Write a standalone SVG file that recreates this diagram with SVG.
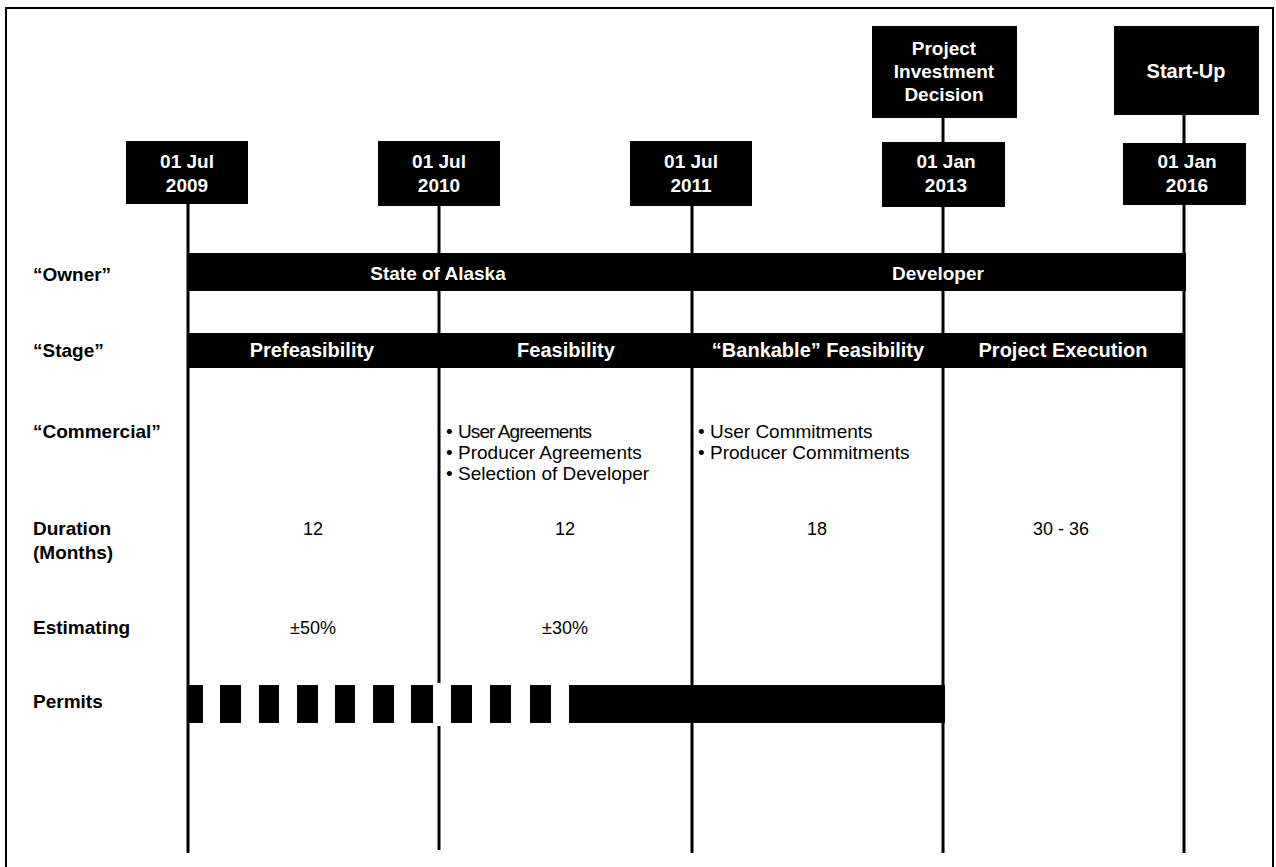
<svg xmlns="http://www.w3.org/2000/svg" width="1276" height="867" viewBox="0 0 1276 867">
<defs>
<style>
.bg{fill:#fff}
.frame{fill:none;stroke:#000;stroke-width:2}
.box{fill:#000}
.ln{stroke:#000;stroke-width:3;fill:none}
.wt{fill:#fff;font-family:"Liberation Sans",Arial,sans-serif;font-weight:bold;text-anchor:middle}
.lbl{fill:#000;font-family:"Liberation Sans",Arial,sans-serif;font-weight:bold;font-size:19px}
.txt{fill:#000;font-family:"Liberation Sans",Arial,sans-serif;font-size:18px}
.bul{fill:#000;font-family:"Liberation Sans",Arial,sans-serif;font-size:19px}
.mid{text-anchor:middle}
</style>
</defs>
<rect class="bg" x="0" y="0" width="1276" height="867"/>
<rect class="frame" x="6" y="8" width="1267" height="880"/>

<g id="connectors">
<line class="ln" x1="188" y1="204" x2="188" y2="853"/>
<line class="ln" x1="439" y1="206" x2="439" y2="683"/>
<line class="ln" x1="439" y1="726" x2="439" y2="850"/>
<line class="ln" x1="692" y1="206" x2="692" y2="853"/>
<line class="ln" x1="943" y1="118" x2="943" y2="853"/>
<line class="ln" x1="1184" y1="115" x2="1184" y2="853"/>
</g>

<g id="pid">
<rect class="box" x="872" y="26" width="145" height="92"/>
<text class="wt" font-size="19" x="944" y="55">Project</text>
<text class="wt" font-size="19" x="944" y="78">Investment</text>
<text class="wt" font-size="19" x="944" y="101">Decision</text>
</g>
<g id="startup">
<rect class="box" x="1114" y="26" width="145" height="89"/>
<text class="wt" font-size="20" x="1186" y="78">Start-Up</text>
</g>

<g id="d2009">
<rect class="box" x="126" y="141" width="122" height="63"/>
<text class="wt" font-size="19" x="187" y="168">01 Jul</text>
<text class="wt" font-size="19" x="187" y="192">2009</text>
</g>
<g id="d2010">
<rect class="box" x="378" y="141" width="122" height="65"/>
<text class="wt" font-size="19" x="439" y="168">01 Jul</text>
<text class="wt" font-size="19" x="439" y="192">2010</text>
</g>
<g id="d2011">
<rect class="box" x="630" y="141" width="122" height="65"/>
<text class="wt" font-size="19" x="691" y="168">01 Jul</text>
<text class="wt" font-size="19" x="691" y="192">2011</text>
</g>
<g id="d2013">
<rect class="box" x="882" y="142" width="123" height="65"/>
<text class="wt" font-size="19" x="946" y="168">01 Jan</text>
<text class="wt" font-size="19" x="946" y="192">2013</text>
</g>
<g id="d2016">
<rect class="box" x="1123" y="143" width="123" height="62"/>
<text class="wt" font-size="19" x="1187" y="168">01 Jan</text>
<text class="wt" font-size="19" x="1187" y="192">2016</text>
</g>

<g id="owner">
<rect class="box" x="187" y="253" width="999" height="38"/>
<text class="wt" font-size="19" x="438" y="280">State of Alaska</text>
<text class="wt" font-size="19" x="938" y="280">Developer</text>
</g>

<g id="stage">
<rect class="box" x="187" y="333" width="996" height="35"/>
<text class="wt" font-size="20" x="312" y="357">Prefeasibility</text>
<text class="wt" font-size="20" x="566" y="357">Feasibility</text>
<text class="wt" font-size="20" x="818" y="357">“Bankable” Feasibility</text>
<text class="wt" font-size="20" x="1063" y="357">Project Execution</text>
</g>

<g id="labels">
<text class="lbl" x="33" y="281">“Owner”</text>
<text class="lbl" x="33" y="357">“Stage”</text>
<text class="lbl" x="33" y="438">“Commercial”</text>
<text class="lbl" x="33" y="535">Duration</text>
<text class="lbl" x="33" y="559">(Months)</text>
<text class="lbl" x="33" y="634">Estimating</text>
<text class="lbl" x="33" y="708">Permits</text>
</g>

<g id="commercial">
<text class="bul" x="446" y="438">•</text>
<text class="bul" x="458" y="438" textLength="134">User Agreements</text>
<text class="bul" x="446" y="459">•</text>
<text class="bul" x="458" y="459">Producer Agreements</text>
<text class="bul" x="446" y="480">•</text>
<text class="bul" x="458" y="480">Selection of Developer</text>
<text class="bul" x="698" y="438">•</text>
<text class="bul" x="710" y="438">User Commitments</text>
<text class="bul" x="698" y="459">•</text>
<text class="bul" x="710" y="459">Producer Commitments</text>
</g>

<g id="duration">
<text class="txt mid" x="313" y="535">12</text>
<text class="txt mid" x="565" y="535">12</text>
<text class="txt mid" x="817" y="535">18</text>
<text class="txt mid" x="1061" y="535">30 - 36</text>
</g>

<g id="estimating">
<text class="txt mid" x="313" y="634">±50%</text>
<text class="txt mid" x="565" y="634">±30%</text>
</g>

<g id="permits">
<rect class="box" x="189" y="685" width="14" height="38"/>
<rect class="box" x="220" y="685" width="21" height="38"/>
<rect class="box" x="259" y="685" width="20" height="38"/>
<rect class="box" x="297" y="685" width="21" height="38"/>
<rect class="box" x="335" y="685" width="20" height="38"/>
<rect class="box" x="373" y="685" width="21" height="38"/>
<rect class="box" x="411" y="685" width="22" height="38"/>
<rect class="box" x="451" y="685" width="21" height="38"/>
<rect class="box" x="490" y="685" width="21" height="38"/>
<rect class="box" x="530" y="685" width="21" height="38"/>
<rect class="box" x="569" y="685" width="376" height="38"/>
</g>
</svg>
